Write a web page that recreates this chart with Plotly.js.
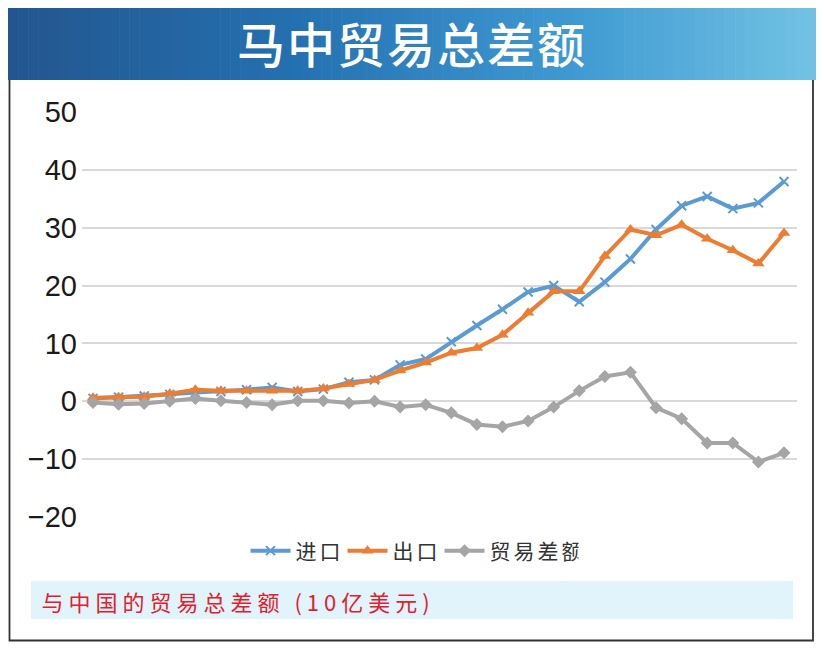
<!DOCTYPE html>
<html>
<head>
<meta charset="utf-8">
<script src="https://cdn.plot.ly/plotly-3.0.1.min.js"></script>
<style>
  body { margin: 0; background: #fff; }
  #chart { width: 824px; height: 650px; }
  /* wider spacing like the printed chart */
  #chart .annotation-text { letter-spacing: 5px; }
  #chart .legendtext { letter-spacing: 3px; }
  #chart .gtitle { letter-spacing: 2px; }
</style>
</head>
<body>
<div id="chart"></div>
<script>
// years (not shown on the chart, x axis has no labels)
var years = [1990, 1991, 1992, 1993, 1994, 1995, 1996, 1997, 1998, 1999,
             2000, 2001, 2002, 2003, 2004, 2005, 2006, 2007, 2008, 2009,
             2010, 2011, 2012, 2013, 2014, 2015, 2016, 2017];

// 进口 (imports)
var imports = [0.5, 0.7, 0.9, 1.2, 1.5, 1.7, 2.0, 2.4, 1.7, 2.1,
               3.3, 3.7, 6.3, 7.3, 10.3, 13.1, 15.9, 18.9, 20.0, 17.2,
               20.6, 24.6, 29.7, 33.8, 35.4, 33.3, 34.3, 38.0];

// 出口 (exports)
var exportsData = [0.6, 0.7, 0.8, 1.3, 2.0, 1.8, 1.8, 1.8, 1.8, 2.2,
                   3.0, 3.7, 5.3, 6.7, 8.4, 9.2, 11.5, 15.3, 19.0, 19.0,
                   25.1, 29.7, 28.7, 30.5, 28.1, 26.1, 23.8, 29.1];

// 贸易差额 (balance)
var balance = [-0.2, -0.5, -0.4, 0.0, 0.5, 0.1, -0.2, -0.6, 0.1, 0.1,
               -0.3, 0.0, -1.0, -0.6, -2.0, -4.0, -4.4, -3.4, -1.0, 1.8,
               4.3, 5.0, -1.1, -3.0, -7.2, -7.2, -10.5, -8.9];

var seriesNames = ["进口", "出口", "贸易差额"];
var yTicks = [-20, -10, 0, 10, 20, 30, 40, 50];

// plot area in pixels: left 82, right 797, top 112, bottom 517
var L = 82, R = 797, T = 112, B = 517;
function px(x) { return (x - L) / (R - L); }
function py(y) { return (B - y) / (B - T); }

var trace1 = {
    x: years, y: imports, name: seriesNames[0],
    type: "scatter", mode: "lines+markers",
    line: { color: "#5b9bd5", width: 4 },
    marker: { symbol: "x-thin", size: 9, line: { color: "#5b9bd5", width: 2 } }
};
var trace2 = {
    x: years, y: exportsData, name: seriesNames[1],
    type: "scatter", mode: "lines+markers",
    line: { color: "#ed7d31", width: 4 },
    marker: { symbol: "triangle-up", size: 11, color: "#ed7d31" }
};
var trace3 = {
    x: years, y: balance, name: seriesNames[2],
    type: "scatter", mode: "lines+markers",
    line: { color: "#a5a5a5", width: 4 },
    marker: { symbol: "diamond", size: 10, color: "#a5a5a5" }
};

// banner gradient made of thin strips
var shapes = [];
var stops = [[0, [35, 86, 143]], [0.35, [36, 112, 176]], [0.7, [63, 154, 210]], [1, [114, 194, 227]]];
function colorAt(t) {
    for (var k = 0; k < stops.length - 1; k++) {
        if (t <= stops[k + 1][0]) {
            var a = stops[k], b = stops[k + 1];
            var f = (t - a[0]) / (b[0] - a[0]);
            var c = a[1].map(function (v, j) { return Math.round(v + (b[1][j] - v) * f); });
            return "rgb(" + c.join(",") + ")";
        }
    }
    return "rgb(114,194,227)";
}
var n = 80, bx0 = 8, bx1 = 816;
for (var i = 0; i < n; i++) {
    var x0 = bx0 + (bx1 - bx0) * i / n;
    var x1 = bx0 + (bx1 - bx0) * (i + 1) / n + 0.6;
    shapes.push({
        type: "rect", xref: "paper", yref: "paper", layer: "below",
        x0: px(x0), x1: px(Math.min(x1, bx1)), y0: py(80), y1: py(8),
        fillcolor: colorAt((i + 0.5) / n), line: { width: 0 }
    });
}
// frame
shapes.push({
    type: "path", xref: "paper", yref: "paper", layer: "below",
    path: "M" + px(9.5) + "," + py(80) + " L" + px(9.5) + "," + py(640.5) +
          " L" + px(813) + "," + py(640.5) + " L" + px(813) + "," + py(80),
    line: { color: "#333", width: 1.8 }
});
// caption box
shapes.push({
    type: "rect", xref: "paper", yref: "paper", layer: "below",
    x0: px(31), x1: px(793), y0: py(619), y1: py(581),
    fillcolor: "#e1f4fb", line: { width: 0 }
});

var layout = {
    width: 824, height: 650,
    margin: { l: L, r: 824 - R, t: T, b: 650 - B },
    paper_bgcolor: "#fff", plot_bgcolor: "#fff",
    font: { family: "Liberation Sans, Arial, sans-serif", color: "#1a1a1a" },
    title: {
        text: "马中贸易总差额",
        font: { family: "Noto Sans CJK SC", size: 48, color: "#fff", weight: 500 },
        x: 0.5, xref: "container", xanchor: "center",
        y: 1 - 46 / 650, yref: "container", yanchor: "middle"
    },
    xaxis: {
        range: [1990 + (L - 93) / 25.59, 2017 + (R - 784) / 25.59],
        showgrid: false, zeroline: false, showline: false,
        showticklabels: false, ticks: "", fixedrange: true
    },
    yaxis: {
        range: [-20, 50],
        tickvals: yTicks,
        ticktext: yTicks.map(function (v) { return v < 0 ? "\u2212" + Math.abs(v) : String(v); }),
        tickfont: { size: 29, color: "#1a1a1a" },
        showgrid: true, gridcolor: "#d9d9d9", gridwidth: 2,
        zeroline: false, showline: false, ticks: "",
        ticklabelstandoff: 4, fixedrange: true
    },
    showlegend: true,
    legend: {
        orientation: "h", x: px(412), xanchor: "center",
        y: py(551), yanchor: "middle",
        font: { family: "Noto Sans CJK SC", size: 21, color: "#333" },
        itemwidth: 40, bgcolor: "rgba(0,0,0,0)"
    },
    shapes: shapes,
    annotations: [{
        xref: "paper", yref: "paper",
        x: px(238), y: py(601), xanchor: "center", yanchor: "middle",
        text: "与中国的贸易总差额 (10亿美元)",
        showarrow: false,
        font: { family: "Noto Sans CJK SC", size: 22, color: "#e2202c" }
    }]
};

Plotly.newPlot("chart", [trace1, trace2, trace3], layout, { displayModeBar: false, staticPlot: true });
</script>
</body>
</html>
